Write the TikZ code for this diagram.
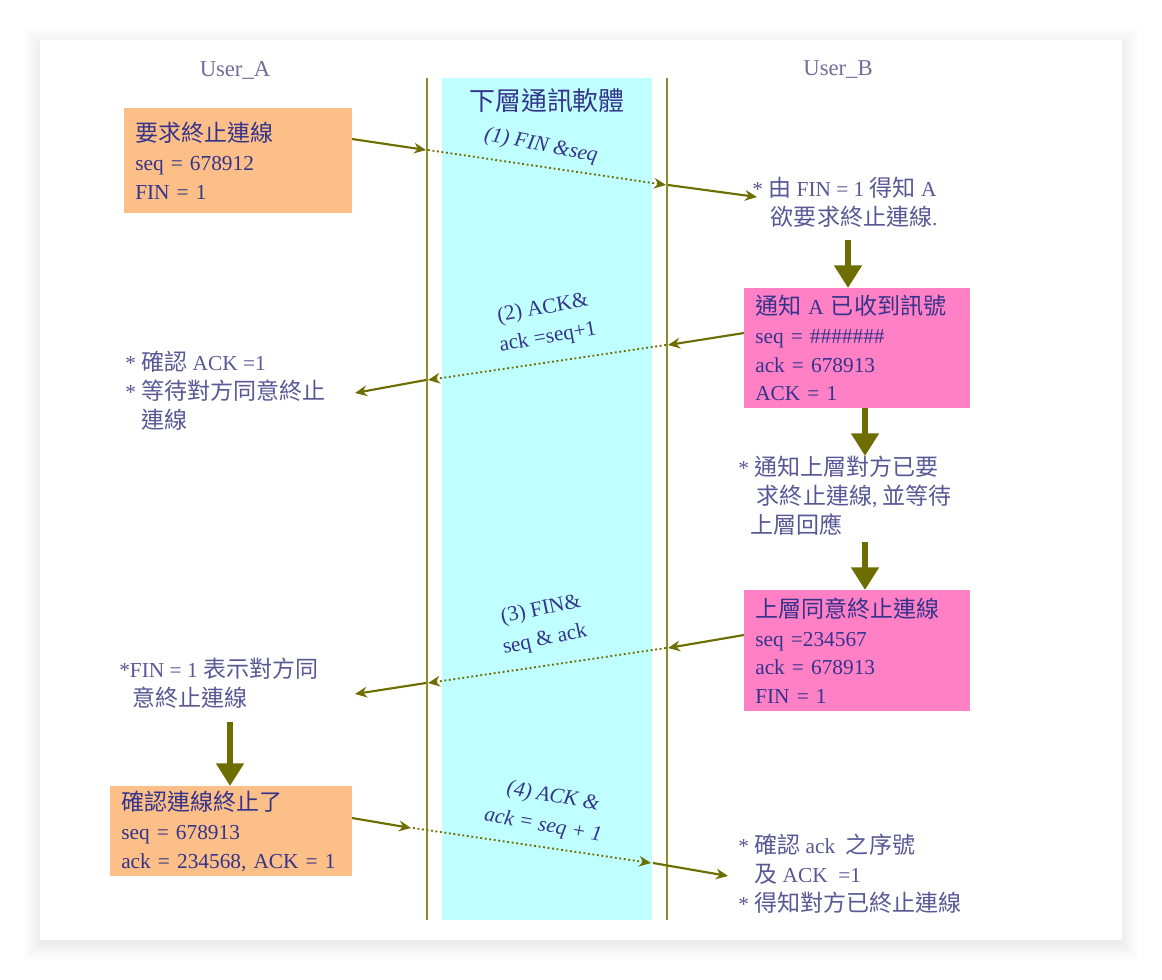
\documentclass[tikz,border=0pt]{standalone}
\usepackage{fontspec}
\setmainfont{Liberation Serif}
\newfontfamily\cjkfont[Scale=1.08]{Noto Sans CJK TC}
\newcommand{\zh}[1]{{\cjkfont #1}}
\usetikzlibrary{arrows.meta}
\definecolor{arrc}{RGB}{110,110,0}
\definecolor{vlinec}{RGB}{140,140,40}
\definecolor{bandc}{RGB}{192,255,255}
\definecolor{orangec}{RGB}{252,191,135}
\definecolor{pinkc}{RGB}{255,128,196}
\definecolor{boxtext}{RGB}{52,52,140}
\definecolor{notetext}{RGB}{88,88,150}
\definecolor{usertext}{RGB}{110,110,155}
\tikzset{
  every node/.style={font=\fontsize{16}{21.5}\selectfont},
  boxnode/.style={anchor=north west, inner xsep=8.25pt, inner ysep=0pt, align=left, text=boxtext},
  note/.style={anchor=north west, inner sep=0pt, align=left, text=notetext, font=\fontsize{16}{21.75}\selectfont},
  chlabel/.style={inner sep=0pt, text=boxtext},
  chital/.style={chlabel, font=\itshape\fontsize{16}{21.5}\selectfont},
  solidarr/.style={draw=arrc, line width=1.6pt, -{Stealth[length=9pt,width=8pt]}},
  dotarr/.style={draw=arrc, line width=1.4pt, dotted, -{Stealth[length=9pt,width=8pt]}},
  bigarr/.style={draw=arrc, line width=4.5pt, -{Triangle[length=17pt,width=20pt]}},
  vline/.style={draw=vlinec, line width=1.6pt},
}
\begin{document}
\begin{tikzpicture}[x=0.75pt,y=-0.75pt]
\useasboundingbox (0,0) rectangle (1162,980);
\fill[white] (0,0) rectangle (1162,980);
% soft card shadow
\foreach \d in {16,14,...,0}{
  \fill[black,opacity=0.009] (40-\d,40-\d+4) rectangle (1122+\d,940+\d+4);
}
\fill[white] (40,40) rectangle (1122,940);
% band and lines
\fill[bandc] (442,78) rectangle (652,920);
\coordinate (vl1t) at (427,78); \coordinate (vl1b) at (427,920);
\coordinate (vl2t) at (667,78); \coordinate (vl2b) at (667,920);
\draw[vline] (vl1t) -- (vl1b);
\draw[vline] (vl2t) -- (vl2b);
% headings
\node[text=usertext, font=\fontsize{17}{20}\selectfont] (ua) at (235,70) {User\_A};
\node[text=usertext, font=\fontsize{17}{20}\selectfont] (ub) at (838,70) {User\_B};
\node[text=boxtext, font=\fontsize{18}{20}\selectfont] (band) at (547,101) {\zh{下層通訊軟體}};
% boxes
\node[boxnode, fill=orangec, minimum width=171pt, minimum height=78.75pt, text width=154.5pt] (A1) at (124,108)
  {\zh{要求終止連線}\\seq = 678912\\FIN = 1};
\node[boxnode, fill=pinkc, minimum width=169.5pt, minimum height=90pt, text width=153pt] (B1) at (744,288)
  {\zh{通知} A \zh{已收到訊號}\\seq = \#\#\#\#\#\#\#\\ack = 678913\\ACK = 1};
\node[boxnode, fill=pinkc, minimum width=169.5pt, minimum height=90.75pt, text width=153pt] (B2) at (744,590)
  {\zh{上層同意終止連線}\\seq =234567\\ack = 678913\\FIN = 1};
\node[boxnode, fill=orangec, minimum width=181.5pt, minimum height=67.5pt, text width=165pt] (A2) at (110,786)
  {\zh{確認連線終止了}\\seq = 678913\\ack = 234568, ACK = 1};
% notes
\node[note] (N1) at (752,177) {* \zh{由} FIN = 1 \zh{得知} A\\\hspace*{14pt}\zh{欲要求終止連線}.};
\node[note] (N2) at (125,351) {* \zh{確認} ACK =1\\* \zh{等待對方同意終止}\\\hspace*{12pt}\zh{連線}};
\node[note] (N3) at (738,456) {* \zh{通知上層對方已要}\\\hspace*{14pt}\zh{求終止連線}, \zh{並等待}\\\hspace*{9pt}\zh{上層回應}};
\node[note] (N4) at (119,658) {*FIN = 1 \zh{表示對方同}\\\hspace*{10pt}\zh{意終止連線}};
\node[note] (N5) at (738,834) {* \zh{確認} ack\ \ \zh{之序號}\\\hspace*{12pt}\zh{及} ACK\ \ =1\\* \zh{得知對方已終止連線}};
% channel labels
\node[chital, rotate=-11] (L1) at (541,146) {(1) FIN \&seq};
\node[chlabel, rotate=10] (L2a) at (543,309) {(2) ACK\&};
\node[chlabel, rotate=10] (L2b) at (548,338) {ack =seq+1};
\node[chlabel, rotate=12] (L3a) at (541,610) {(3) FIN\&};
\node[chlabel, rotate=12] (L3b) at (545,640) {seq \& ack};
\node[chital, rotate=-10] (L4a) at (553,797) {(4) ACK \&};
\node[chital, rotate=-10] (L4b) at (543,826) {ack = seq + 1};
% message 1
\coordinate (m1a) at (352,139); \coordinate (m1b) at (426,150);
\coordinate (m1c) at (428,150); \coordinate (m1d) at (666,185);
\coordinate (m1e) at (668,185); \coordinate (m1f) at (757,197);
\draw[solidarr] (m1a) -- (m1b);
\draw[dotarr] (m1c) -- (m1d);
\draw[solidarr] (m1e) -- (m1f);
% message 2
\coordinate (m2a) at (744,333); \coordinate (m2b) at (668,345);
\coordinate (m2c) at (666,345); \coordinate (m2d) at (428,380);
\coordinate (m2e) at (426,380); \coordinate (m2f) at (355,393);
\draw[solidarr] (m2a) -- (m2b);
\draw[dotarr] (m2c) -- (m2d);
\draw[solidarr] (m2e) -- (m2f);
% message 3
\coordinate (m3a) at (744,635); \coordinate (m3b) at (668,648);
\coordinate (m3c) at (666,648); \coordinate (m3d) at (428,683);
\coordinate (m3e) at (426,683); \coordinate (m3f) at (355,694);
\draw[solidarr] (m3a) -- (m3b);
\draw[dotarr] (m3c) -- (m3d);
\draw[solidarr] (m3e) -- (m3f);
% message 4
\coordinate (m4a) at (352,818); \coordinate (m4b) at (411,828);
\coordinate (m4c) at (413,828); \coordinate (m4d) at (651,863);
\coordinate (m4e) at (653,863); \coordinate (m4f) at (728,876);
\draw[solidarr] (m4a) -- (m4b);
\draw[dotarr] (m4c) -- (m4d);
\draw[solidarr] (m4e) -- (m4f);
% big arrows
\coordinate (b1s) at (848,240); \coordinate (b1e) at (848,288);
\coordinate (b2s) at (865,408); \coordinate (b2e) at (865,456);
\coordinate (b3s) at (865,542); \coordinate (b3e) at (865,590);
\coordinate (b4s) at (230,722); \coordinate (b4e) at (230,786);
\draw[bigarr] (b1s) -- (b1e);
\draw[bigarr] (b2s) -- (b2e);
\draw[bigarr] (b3s) -- (b3e);
\draw[bigarr] (b4s) -- (b4e);
\end{tikzpicture}
\end{document}
